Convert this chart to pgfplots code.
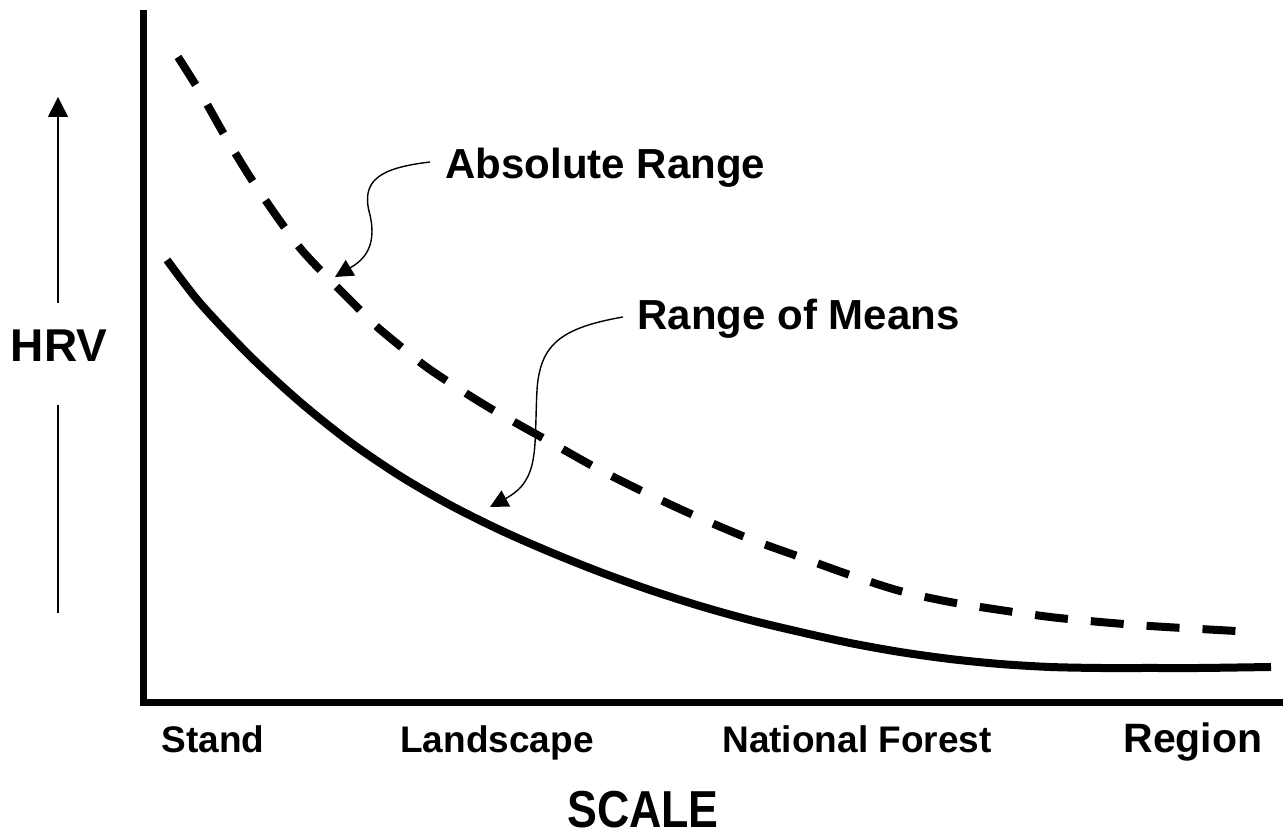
\documentclass[border=0pt]{standalone}
\usepackage{pgfplots}
\pgfplotsset{compat=1.18}
\usepackage{pgfplotstable}
\usepackage{fontspec}
\setmainfont{Liberation Sans}
\usetikzlibrary{arrows.meta}

\pgfplotstableread{
x y
167 443
200 400
250 347
300 301
350 261
400 227
450 198
500 173
550 151
600 131
650 113
700 97
750 83
800 71
850 60
900 51
950 44
1000 39
1050 36
1100 35
1150 35
1200 35
1271 36
}\meansdata

\pgfplotstableread{
x y
178 646
200 611
225 567
250 526
275 489
300 455
325 428
350 403
375 378
400 357
425 337
450 320
475 304
500 289
550 261
600 233
650 208
700 185
750 164
800 146
850 128
900 112
950 101
1000 93
1050 86
1100 81
1150 77
1200 74
1236 72
}\absdata

\begin{document}
\begin{tikzpicture}
\begin{axis}[
  scale only axis,
  width=567.5pt, height=344.5pt,
  xmin=144, xmax=1279, ymin=0, ymax=689,
  axis x line=bottom, axis y line=left,
  axis line style={-, line width=3.5pt, line cap=rect, black},
  xtick={213,497,857,1193},
  xticklabels={Stand, Landscape, National Forest, {\fontsize{20.5pt}{24pt}\selectfont Region}},
  xticklabel style={anchor=base, yshift=-25pt, font=\fontsize{18.5pt}{22pt}\selectfont\bfseries},
  major tick length=0pt,
  ytick=\empty,
  clip=false,
]
\addplot[black, line width=4pt, smooth] table[x=x, y=y] {\meansdata};
\addplot[black, line width=4pt, smooth, dash pattern=on 16.5pt off 11.5pt] table[x=x, y=y] {\absdata};

% annotation arrows
\draw[line width=0.7pt, -{Triangle[length=9pt,width=9pt]}]
  (axis cs:430,541) .. controls (axis cs:380,535) and (axis cs:360,523) .. (axis cs:370,488)
  .. controls (axis cs:378,453) and (axis cs:360,441) .. (axis cs:335,426);
\draw[line width=0.7pt, -{Triangle[length=9pt,width=9pt]}]
  (axis cs:623,386) .. controls (axis cs:560,375) and (axis cs:540,358) .. (axis cs:537,313)
  .. controls (axis cs:534,253) and (axis cs:540,223) .. (axis cs:490,196);

\node[anchor=base west, inner sep=0pt, font=\fontsize{21pt}{25pt}\selectfont\bfseries] at (axis cs:445,524) {Absolute Range};
\node[anchor=base west, inner sep=0pt, font=\fontsize{21pt}{25pt}\selectfont\bfseries] at (axis cs:637,373) {Range of Means};

% HRV label with arrow
\node[anchor=base, inner sep=0pt, font=\fontsize{23pt}{27pt}\selectfont\bfseries] at (axis cs:59,341) {HRV};
\draw[line width=0.75pt, -{Triangle[length=10pt,width=10pt]}] (axis cs:58,400) -- (axis cs:58,606);
\draw[line width=0.75pt] (axis cs:58,298) -- (axis cs:58,90);

% SCALE label
\node[anchor=base, inner sep=0pt, xscale=0.86, font=\fontsize{26pt}{30pt}\selectfont\bfseries] at (axis cs:643,-125) {SCALE};

\path (axis cs:0,-135) rectangle (axis cs:1286,703);
\end{axis}
\end{tikzpicture}
\end{document}
